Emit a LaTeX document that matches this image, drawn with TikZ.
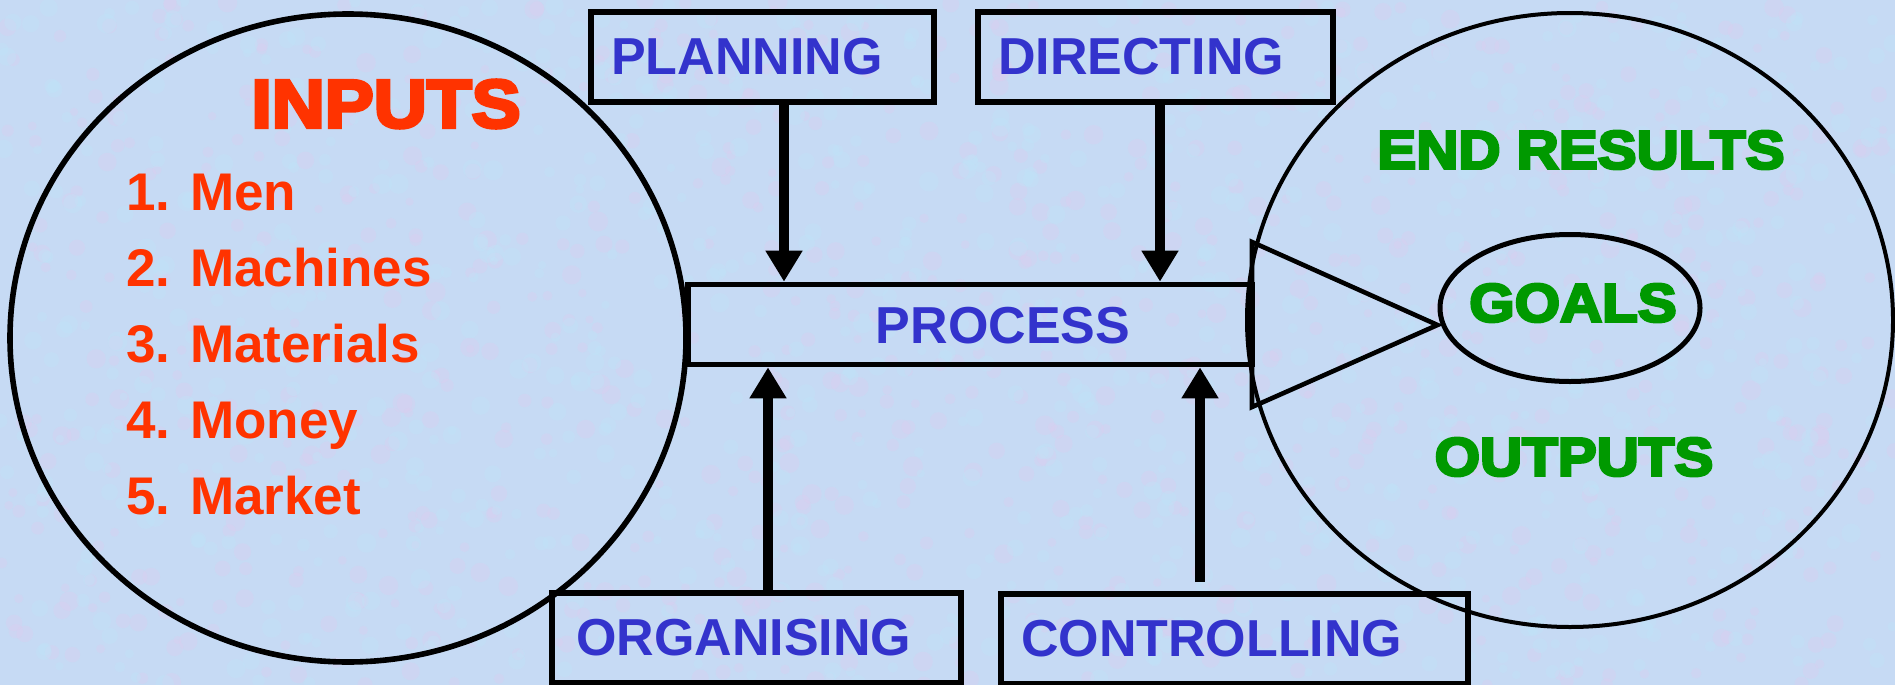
\documentclass[tikz,border=0pt]{standalone}
\usepackage{fontspec}
\setmainfont{Liberation Sans}
\newfontfamily\heavyfont[FakeBold=5,FakeStretch=1.08]{Liberation Sans Bold}
\usetikzlibrary{arrows.meta,shapes.geometric}
\definecolor{inred}{RGB}{255,51,0}
\definecolor{fnblue}{RGB}{51,51,204}
\definecolor{outgreen}{RGB}{0,153,0}
\definecolor{paper}{RGB}{198,218,244}
\definecolor{speckpink}{RGB}{220,205,240}
\definecolor{speckcyan}{RGB}{192,228,248}
\tikzset{
  fnbox/.style={draw, line width=3pt, inner xsep=10pt, inner ysep=0pt,
    minimum height=45pt, align=left, text=fnblue,
    font=\bfseries\fontsize{26}{30}\selectfont},
  fnlabel/.style={text=fnblue, font=\bfseries\fontsize{26}{30}\selectfont},
  outlabel/.style={text=outgreen, font=\heavyfont\fontsize{27}{30}\selectfont},
  flow/.style={line width=5pt, -{Triangle[width=17.5pt,length=15.5pt]}},
}

\begin{document}
\begin{tikzpicture}[x=0.5pt,y=-0.5pt]
\fill[paper] (0,0) rectangle (1895,685);
\useasboundingbox (0,0) rectangle (1895,685);
% mottled paper
\pgfmathsetseed{7}
\foreach \i in {1,...,900}
  \fill[speckpink, opacity=0.35] (1895*rnd,685*rnd) circle[radius=2pt+3pt*rnd];
\foreach \i in {1,...,900}
  \fill[speckcyan, opacity=0.35] (1895*rnd,685*rnd) circle[radius=2pt+3pt*rnd];
% the two big circles
\draw[line width=2.8pt] (348,338) ellipse [x radius=169pt, y radius=162pt];
\draw[line width=2pt] (1570,320) ellipse [x radius=161.5pt, y radius=153.5pt];
% inputs
\node[text=inred, font=\heavyfont\fontsize{34}{36}\selectfont] (inputs) at (386,104) {INPUTS};
\node[anchor=west, align=left, inner sep=0pt, text=inred, font=\bfseries\fontsize{26.5}{38}\selectfont] (inlist) at (126,345)
  {1. Men\\2. Machines\\3. Materials\\4. Money\\5. Market};
% functions
\node[fnbox, text width=151.5pt] (plan) at (762.5,57) {PLANNING};
\node[fnbox, text width=157.5pt] (dir) at (1155.5,57) {DIRECTING};
\node[fnbox, inner xsep=12pt, text width=180.5pt] (org) at (756.5,638) {ORGANISING};
\node[fnbox, text width=213.5pt] (ctrl) at (1234.5,639) {CONTROLLING};
\node[draw, line width=2.8pt, minimum width=282pt, minimum height=40pt] (proc) at (970,324.5) {};
\node[fnlabel] (proctext) at (1003,326) {PROCESS};
\draw[flow] ([xshift=10.75pt]plan.south) -- ([xshift=10.75pt]plan.south |- proc.north);
\draw[flow] ([xshift=2.25pt]dir.south) -- ([xshift=2.25pt]dir.south |- proc.north);
\draw[flow] ([xshift=5.75pt]org.north) -- ([xshift=5.75pt]org.north |- proc.south);
\draw[flow] ([xshift=-17.25pt,yshift=4.5pt]ctrl.north) -- ([xshift=-17.25pt]ctrl.north |- proc.south);
% outputs
\node[draw, ellipse, line width=2.5pt, minimum width=130pt, minimum height=73.5pt, inner sep=0pt] (goals) at (1570,308) {};
\node[outlabel] (goalstext) at (1573,303) {GOALS};
\node[outlabel] (endres) at (1581,150) {END RESULTS};
\node[outlabel] (outputs) at (1574,457) {OUTPUTS};
\coordinate (tt) at (1252,242);
\coordinate (tb) at (1252,407);
\draw[line width=2.3pt] (tt) -- ([yshift=-8.5pt]goals.west) -- (tb) -- cycle;
\end{tikzpicture}
\end{document}
